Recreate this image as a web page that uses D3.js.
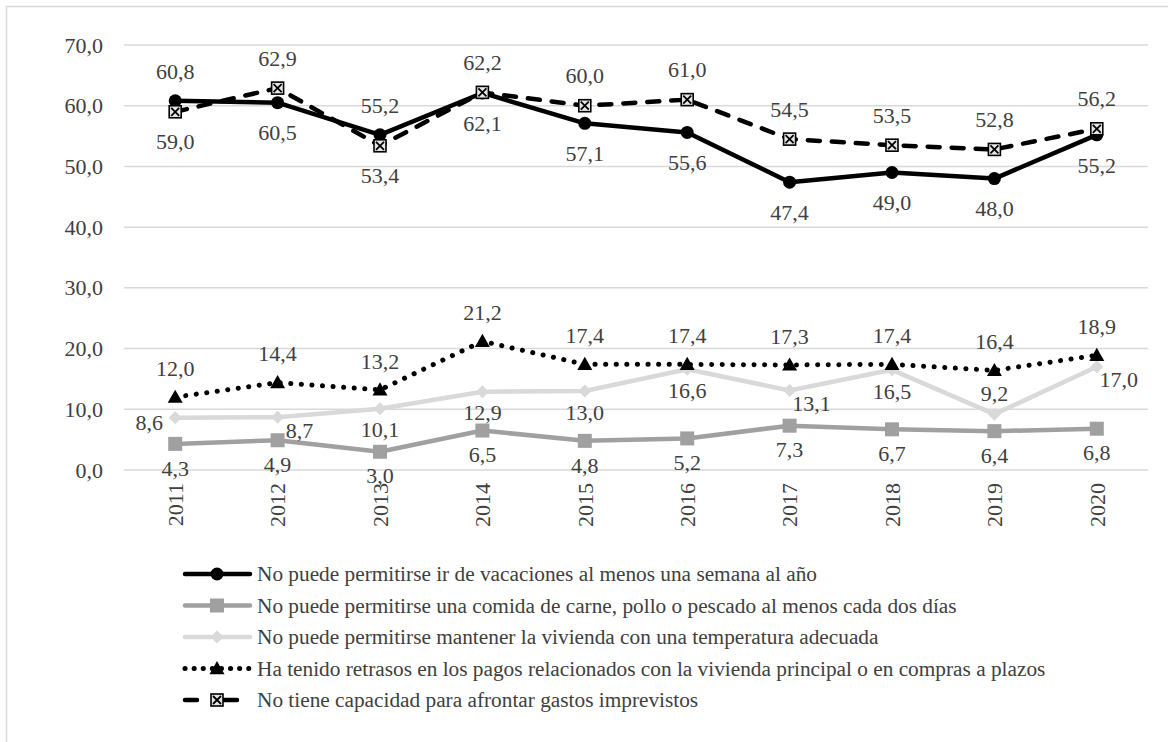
<!DOCTYPE html>
<html>
<head>
<meta charset="utf-8">
<script src="https://cdn.jsdelivr.net/npm/d3@7/dist/d3.min.js"></script>
<style>
  html, body { margin: 0; padding: 0; background: #ffffff; }
  svg { display: block; }
</style>
</head>
<body>
<svg id="chart" width="1168" height="742"></svg>
<script>
// Years on the category axis
const years = ["2011", "2012", "2013", "2014", "2015", "2016", "2017", "2018", "2019", "2020"];

// Y axis ticks
const yTicks = [0, 10, 20, 30, 40, 50, 60, 70];

// Series values (%)
const vacaciones  = [60.8, 60.5, 55.2, 62.1, 57.1, 55.6, 47.4, 49.0, 48.0, 55.2];
const carne       = [4.3, 4.9, 3.0, 6.5, 4.8, 5.2, 7.3, 6.7, 6.4, 6.8];
const temperatura = [8.6, 8.7, 10.1, 12.9, 13.0, 16.6, 13.1, 16.5, 9.2, 17.0];
const retrasos    = [12.0, 14.4, 13.2, 21.2, 17.4, 17.4, 17.3, 17.4, 16.4, 18.9];
const imprevistos = [59.0, 62.9, 53.4, 62.2, 60.0, 61.0, 54.5, 53.5, 52.8, 56.2];

// Series names
const seriesNames = [
  "No puede permitirse ir de vacaciones al menos una semana al año",
  "No puede permitirse una comida de carne, pollo o pescado al menos cada dos días",
  "No puede permitirse mantener la vivienda con una temperatura adecuada",
  "Ha tenido retrasos en los pagos relacionados con la vivienda principal o en compras a plazos",
  "No tiene capacidad para afrontar gastos imprevistos"
];

// Which side of each point its value label sits on
const vacacionesLabelPos  = ["above", "below", "above", "below", "below", "below", "below", "below", "below", "below"];
const carneLabelPos       = ["below", "below", "below", "below", "below", "below", "below", "below", "below", "below"];
const temperaturaLabelPos = ["left", "right", "below", "below", "below", "below", "right", "below", "above", "right"];
const retrasosLabelPos    = ["above", "above", "above", "above", "above", "above", "above", "above", "above", "above"];
const imprevistosLabelPos = ["below", "above", "below", "above", "above", "above", "above", "above", "above", "above"];

const DOT = "0.1 10.5";
const series = [
  { name: seriesNames[0], values: vacaciones,  pos: vacacionesLabelPos,  color: "#000000", dash: null,  marker: "circle",   off: 30 },
  { name: seriesNames[1], values: carne,       pos: carneLabelPos,       color: "#a0a0a0", dash: null,  marker: "square",   off: 24 },
  { name: seriesNames[2], values: temperatura, pos: temperaturaLabelPos, color: "#d9d9d9", dash: null,  marker: "diamond",  off: 21 },
  { name: seriesNames[3], values: retrasos,    pos: retrasosLabelPos,    color: "#000000", dash: DOT,   marker: "triangle", off: 29 },
  { name: seriesNames[4], values: imprevistos, pos: imprevistosLabelPos, color: "#000000", dash: "12 12", marker: "xbox",   off: 30 }
];

const FONT = "'Liberation Serif', 'Times New Roman', Times, serif";
const TEXT_COLOR = "#404040";

const svg = d3.select("#chart");
const W = 1168, H = 742;

// Chart area frame (left and top edges visible)
svg.append("rect")
  .attr("x", 6.5).attr("y", 6.5)
  .attr("width", W + 20).attr("height", H + 20)
  .attr("fill", "none").attr("stroke", "#d9d9d9").attr("stroke-width", 1.5);

const plot = { left: 124, right: 1148, top: 45, bottom: 470 };

const x = d3.scaleBand().domain(years).range([plot.left, plot.right]);
const y = d3.scaleLinear().domain([0, 70]).range([plot.bottom, plot.top]);
const cx = d => x(d) + x.bandwidth() / 2;

// Gridlines
svg.append("g")
  .selectAll("line")
  .data(yTicks)
  .join("line")
  .attr("x1", plot.left).attr("x2", plot.right)
  .attr("y1", d => y(d)).attr("y2", d => y(d))
  .attr("stroke", "#d9d9d9").attr("stroke-width", 1.5);

const fmt = v => d3.format(".1f")(v).replace(".", ",");

function styleText(sel, size) {
  sel.style("font-family", FONT)
     .style("font-size", size + "px")
     .style("fill", TEXT_COLOR);
}

// Y axis labels
const yAxis = d3.axisLeft(y).tickValues(yTicks).tickFormat(fmt).tickSize(0).tickPadding(0);
const gy = svg.append("g").attr("transform", "translate(103,0)").call(yAxis);
gy.select(".domain").remove();
gy.selectAll("text").call(styleText, 22);

// X axis labels (rotated)
const xAxis = d3.axisBottom(x).tickSize(0).tickPadding(0);
const gx = svg.append("g").attr("transform", `translate(0,${plot.bottom})`).call(xAxis);
gx.select(".domain").remove();
gx.selectAll("text")
  .call(styleText, 22)
  .attr("transform", "translate(0,13) rotate(-90)")
  .attr("text-anchor", "end")
  .attr("dy", "0.35em")
  .attr("y", 0).attr("x", 0);

// Marker drawing
function drawMarker(g, type, color, px, py) {
  if (type === "circle") {
    g.append("circle").attr("cx", px).attr("cy", py).attr("r", 6.5).attr("fill", color);
  } else if (type === "square") {
    const h = 7;
    g.append("rect").attr("x", px - h).attr("y", py - h).attr("width", 2 * h).attr("height", 2 * h).attr("fill", color);
  } else if (type === "diamond") {
    const h = 6.5;
    g.append("path").attr("d", `M${px},${py - h}L${px + h},${py}L${px},${py + h}L${px - h},${py}Z`).attr("fill", color);
  } else if (type === "triangle") {
    const h = 7.5;
    g.append("path").attr("d", `M${px},${py - h}L${px + h},${py + h * 0.75}L${px - h},${py + h * 0.75}Z`).attr("fill", color);
  } else if (type === "xbox") {
    const h = 6;
    g.append("rect").attr("x", px - h).attr("y", py - h).attr("width", 2 * h).attr("height", 2 * h)
      .attr("fill", "#e6e6e6").attr("stroke", color).attr("stroke-width", 1.6);
    g.append("path").attr("d", `M${px - h + 2},${py - h + 2}L${px + h - 2},${py + h - 2}M${px + h - 2},${py - h + 2}L${px - h + 2},${py + h - 2}`)
      .attr("stroke", color).attr("stroke-width", 1.8);
  }
}

const line = d3.line().x((d, i) => cx(years[i])).y(d => y(d));

// Draw series lines (light ones first so dark ones sit on top)
const order = [2, 1, 0, 3, 4];
order.forEach(k => {
  const s = series[k];
  const g = svg.append("g");
  g.append("path")
    .datum(s.values)
    .attr("d", line)
    .attr("fill", "none")
    .attr("stroke", s.color)
    .attr("stroke-width", s.dash === DOT ? 5 : 4.5)
    .attr("stroke-linecap", "round")
    .attr("stroke-linejoin", "round")
    .attr("stroke-dasharray", s.dash);
  s.values.forEach((v, i) => drawMarker(g, s.marker, s.color, cx(years[i]), y(v)));
});

// Value labels
const lbl = svg.append("g");
series.forEach(s => {
  s.values.forEach((v, i) => {
    const px = cx(years[i]), py = y(v);
    let tx = px, ty = py;
    const p = s.pos[i];
    if (p === "above") ty = py - s.off;
    else if (p === "below") ty = py + s.off;
    else if (p === "left") { tx = px - 26; ty = py + 5; }
    else if (p === "right") { tx = px + 22; ty = py + 13; }
    lbl.append("text")
      .attr("x", tx).attr("y", ty)
      .attr("dy", "0.35em")
      .attr("text-anchor", "middle")
      .call(styleText, 22)
      .text(fmt(v));
  });
});

// Legend
const legend = svg.append("g");
const legendRows = [574, 605.5, 637, 668.5, 700];
series.forEach((s, i) => {
  const ly = legendRows[i];
  const gL = legend.append("g");
  gL.append("line")
    .attr("x1", 185).attr("x2", 250)
    .attr("y1", ly).attr("y2", ly)
    .attr("stroke", s.color)
    .attr("stroke-width", s.dash === DOT ? 5 : 4.5)
    .attr("stroke-linecap", "round")
    .attr("stroke-dasharray", s.dash === DOT ? "0.1 9" : (s.dash ? "15 25" : null))
    .attr("stroke-dashoffset", s.dash && s.dash !== DOT ? 3 : 0);
  drawMarker(gL, s.marker, s.color, 217, ly);
  gL.append("text")
    .attr("x", 257).attr("y", ly)
    .attr("dy", "0.35em")
    .call(styleText, 21.3)
    .text(s.name);
});
</script>
</body>
</html>
